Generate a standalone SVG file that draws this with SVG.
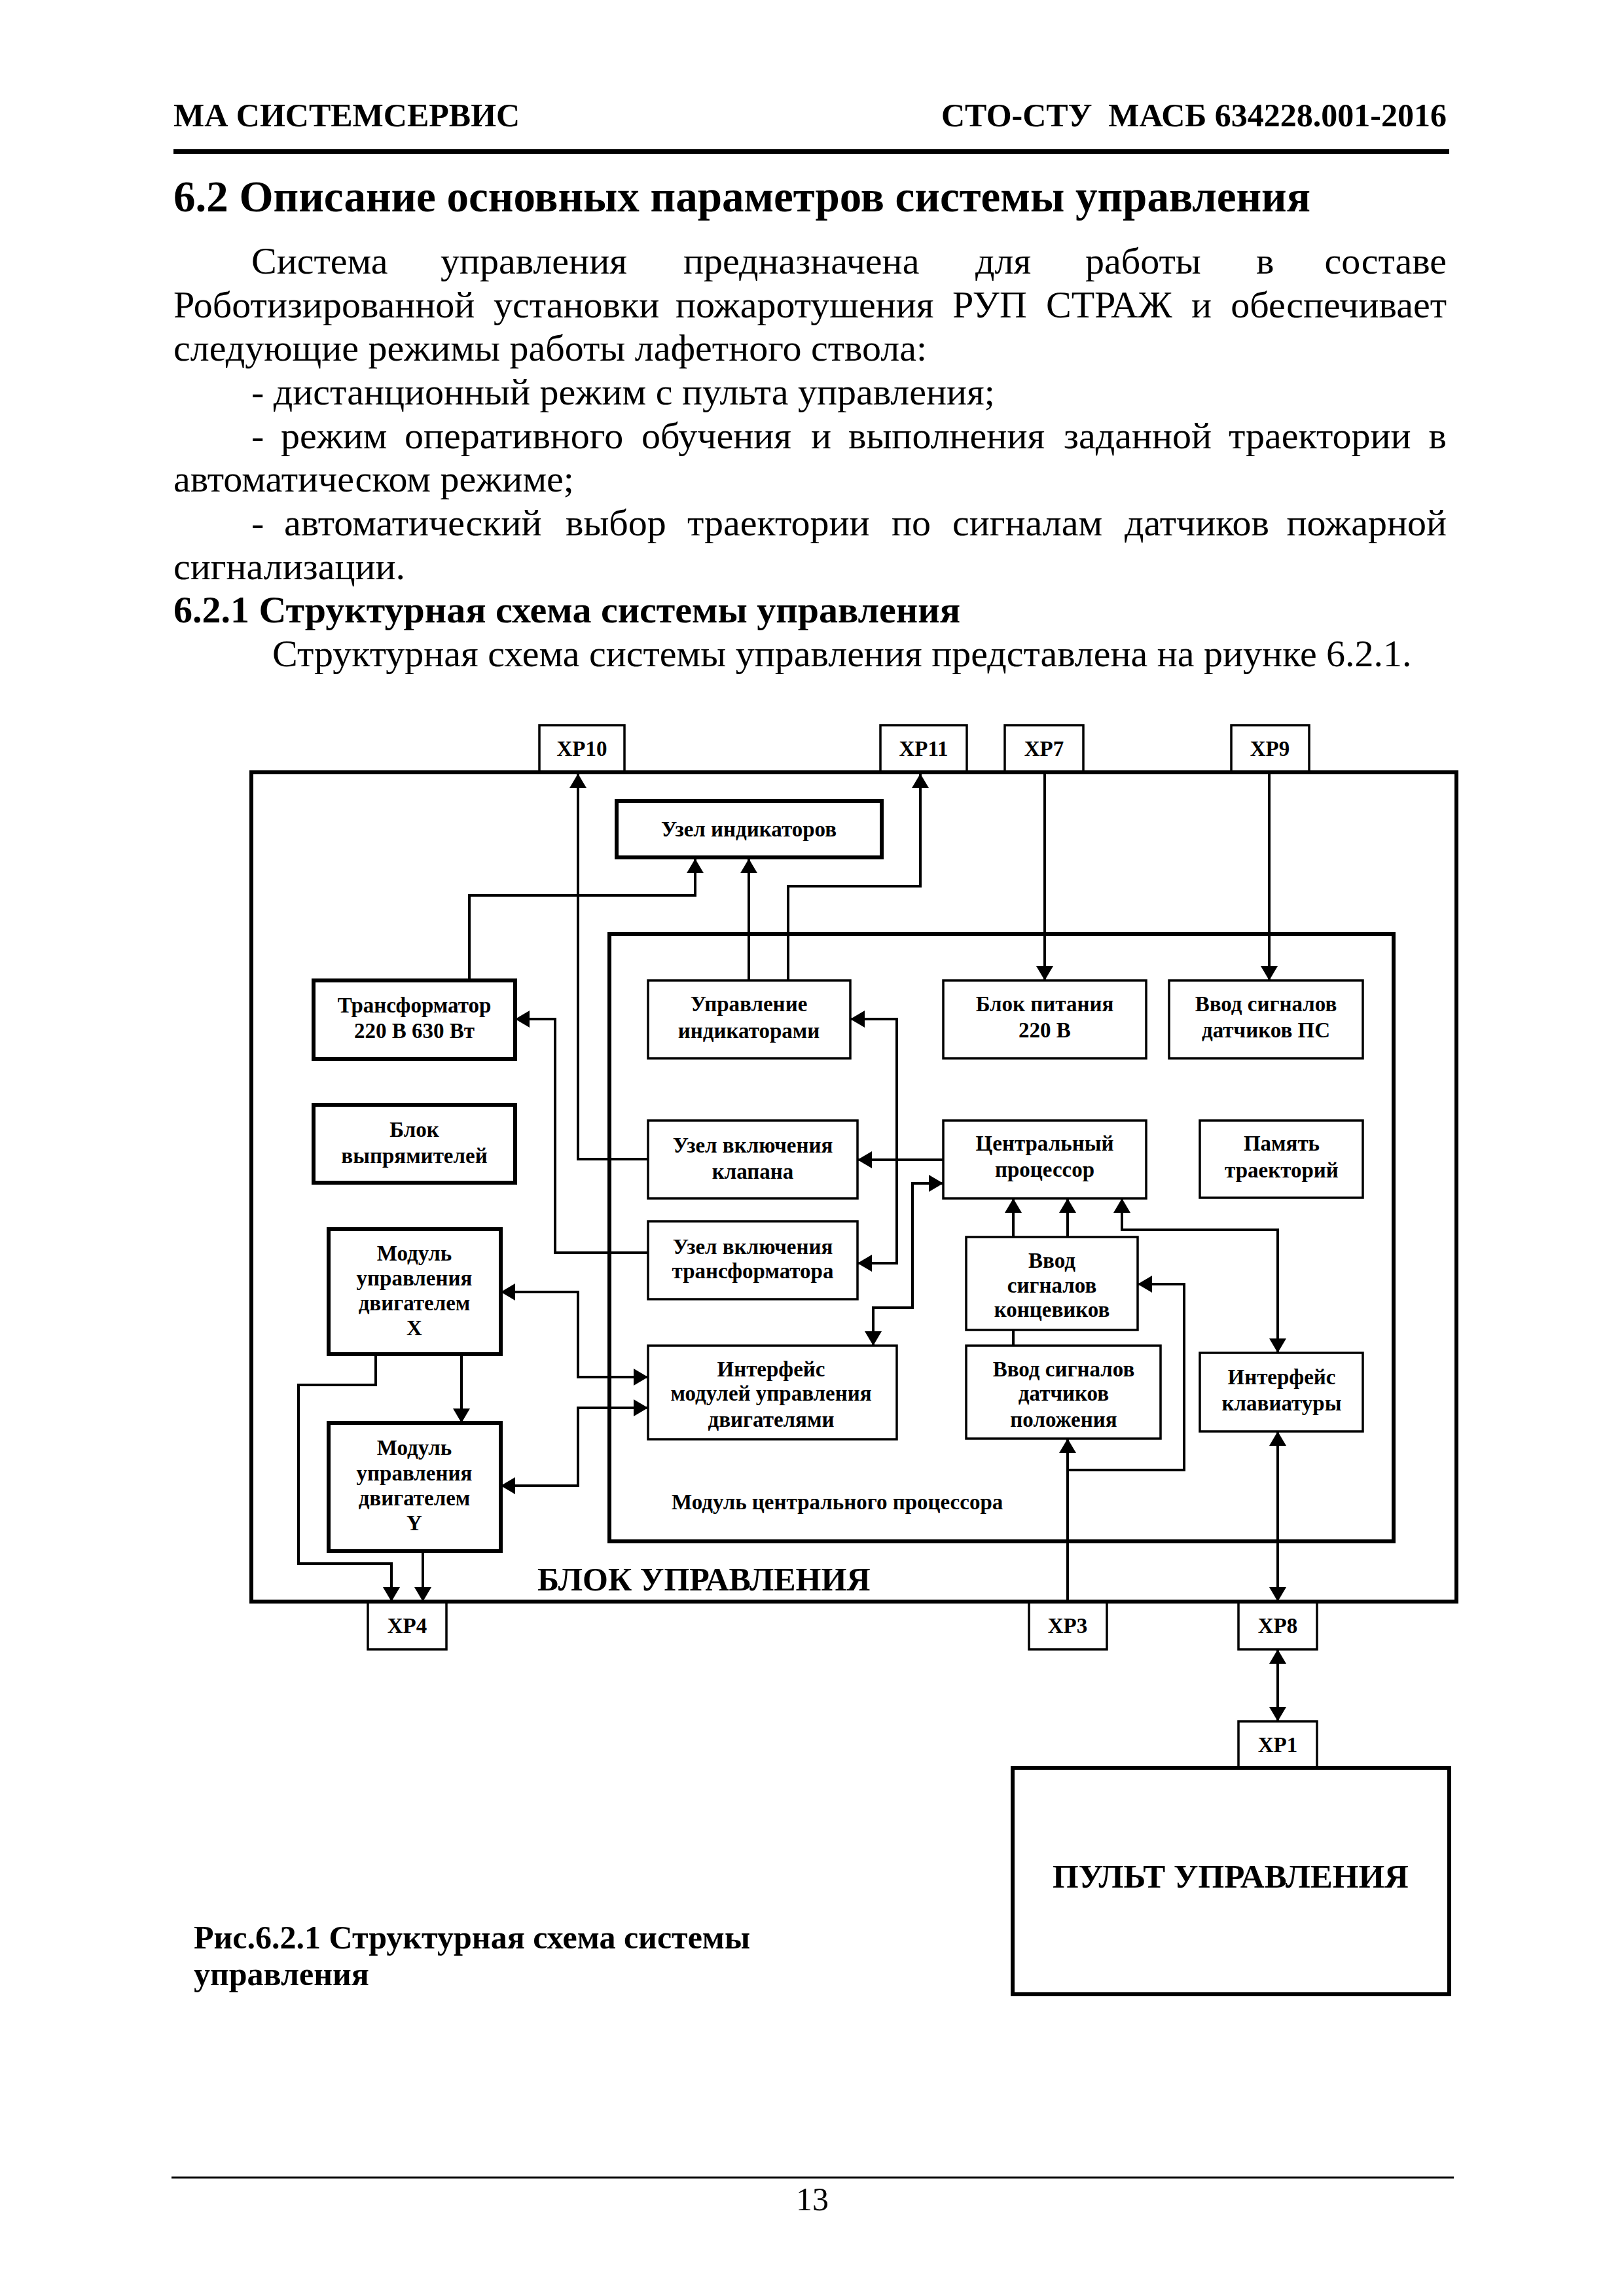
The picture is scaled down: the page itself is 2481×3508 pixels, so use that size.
<svg xmlns="http://www.w3.org/2000/svg" width="2481" height="3508" viewBox="0 0 2481 3508">
<style>
text{font-family:"Liberation Serif","Times New Roman",serif;fill:#000}
.b{font-weight:bold}
.body{font-size:58px}
.lbl{font-size:33px;font-weight:bold;text-anchor:middle}
.box{fill:none;stroke:#000;stroke-width:3.5}
.thick{fill:none;stroke:#000;stroke-width:6}
.conn{fill:none;stroke:#000;stroke-width:4}
.a{marker-end:url(#ah)}
.aa{marker-start:url(#ah);marker-end:url(#ah)}
</style>
<defs>
<marker id="ah" viewBox="0 0 22 26" refX="22" refY="13" markerWidth="22" markerHeight="26" markerUnits="userSpaceOnUse" orient="auto-start-reverse"><path d="M0,0 L22,13 L0,26 z" fill="#000"/></marker>
</defs>
<rect width="2481" height="3508" fill="#fff"/>

<g id="page-header">
<text x="265" y="193" class="b" font-size="50">МА СИСТЕМСЕРВИС</text>
<text x="2210" y="193" class="b" font-size="50" text-anchor="end" xml:space="preserve">СТО-СТУ  МАСБ 634228.001-2016</text>
<line x1="265" y1="231.5" x2="2214" y2="231.5" stroke="#000" stroke-width="7"/>
</g>

<g id="body-text">
<text x="265" y="323" class="b" font-size="67">6.2 Описание основных параметров системы управления</text>
<text class="body" y="418"><tspan x="384">Система</tspan><tspan x="673">управления</tspan><tspan x="1044">предназначена</tspan><tspan x="1490">для</tspan><tspan x="1658">работы</tspan><tspan x="1919">в</tspan><tspan x="2210" text-anchor="end">составе</tspan></text>
<text class="body" y="485"><tspan x="265">Роботизированной</tspan><tspan x="754">установки</tspan><tspan x="1032">пожаротушения</tspan><tspan x="1455">РУП</tspan><tspan x="1598">СТРАЖ</tspan><tspan x="1820">и</tspan><tspan x="2210" text-anchor="end">обеспечивает</tspan></text>
<text class="body" x="265" y="551">следующие режимы работы лафетного ствола:</text>
<text class="body" x="384" y="618">- дистанционный режим с пульта управления;</text>
<text class="body" y="685"><tspan x="384">-</tspan><tspan x="429">режим</tspan><tspan x="618">оперативного</tspan><tspan x="980">обучения</tspan><tspan x="1239">и</tspan><tspan x="1296">выполнения</tspan><tspan x="1625">заданной</tspan><tspan x="1877">траектории</tspan><tspan x="2210" text-anchor="end">в</tspan></text>
<text class="body" x="265" y="751">автоматическом режиме;</text>
<text class="body" y="818"><tspan x="384">-</tspan><tspan x="434">автоматический</tspan><tspan x="864">выбор</tspan><tspan x="1050">траектории</tspan><tspan x="1362">по</tspan><tspan x="1455">сигналам</tspan><tspan x="1718">датчиков</tspan><tspan x="2210" text-anchor="end">пожарной</tspan></text>
<text class="body" x="265" y="885">сигнализации.</text>
<text class="body b" x="265" y="951">6.2.1 Структурная схема системы управления</text>
<text class="body" x="416" y="1018">Структурная схема системы управления представлена на риунке 6.2.1.</text>
</g>

<g id="blok-upravleniya">
<rect class="thick" x="384" y="1180" width="1841" height="1267"/>
<text x="821" y="2430" class="b" font-size="50">БЛОК УПРАВЛЕНИЯ</text>
</g>
<g id="modul-cp">
<rect class="thick" x="931" y="1427" width="1198" height="928"/>
<text x="1026" y="2306" class="b" font-size="33">Модуль центрального процессора</text>
</g>

<g id="xp10"><rect class="box" x="824" y="1108" width="130" height="72"/><text class="lbl" x="889" y="1155">XP10</text></g>
<g id="xp11"><rect class="box" x="1345" y="1108" width="132" height="72"/><text class="lbl" x="1411" y="1155">XP11</text></g>
<g id="xp7"><rect class="box" x="1535" y="1108" width="120" height="72"/><text class="lbl" x="1595" y="1155">XP7</text></g>
<g id="xp9"><rect class="box" x="1881" y="1108" width="119" height="72"/><text class="lbl" x="1940" y="1155">XP9</text></g>

<g id="uzel-indikatorov"><rect class="thick" x="942" y="1224" width="405" height="86"/><text class="lbl" x="1144" y="1278">Узел индикаторов</text></g>
<g id="transformator"><rect class="thick" x="479" y="1498" width="308" height="120"/><text class="lbl" x="633" y="1547">Трансформатор</text><text class="lbl" x="633" y="1586">220 В 630 Вт</text></g>
<g id="blok-vypryamiteley"><rect class="thick" x="479" y="1688" width="308" height="119"/><text class="lbl" x="633" y="1737">Блок</text><text class="lbl" x="633" y="1777">выпрямителей</text></g>
<g id="modul-x"><rect class="thick" x="502" y="1878" width="263" height="191"/><text class="lbl" x="633" y="1926">Модуль</text><text class="lbl" x="633" y="1964">управления</text><text class="lbl" x="633" y="2002">двигателем</text><text class="lbl" x="633" y="2040">X</text></g>
<g id="modul-y"><rect class="thick" x="502" y="2174" width="263" height="196"/><text class="lbl" x="633" y="2223">Модуль</text><text class="lbl" x="633" y="2262">управления</text><text class="lbl" x="633" y="2300">двигателем</text><text class="lbl" x="633" y="2338">Y</text></g>

<g id="upr-indikatorami"><rect class="box" x="990" y="1498" width="309" height="119"/><text class="lbl" x="1144" y="1545">Управление</text><text class="lbl" x="1144" y="1586">индикаторами</text></g>
<g id="blok-pitaniya"><rect class="box" x="1441" y="1498" width="310" height="119"/><text class="lbl" x="1596" y="1545">Блок питания</text><text class="lbl" x="1596" y="1585">220 В</text></g>
<g id="vvod-ps"><rect class="box" x="1786" y="1498" width="296" height="119"/><text class="lbl" x="1934" y="1545">Ввод сигналов</text><text class="lbl" x="1934" y="1585">датчиков ПС</text></g>
<g id="uzel-klapana"><rect class="box" x="990" y="1712" width="320" height="119"/><text class="lbl" x="1150" y="1761">Узел включения</text><text class="lbl" x="1150" y="1801">клапана</text></g>
<g id="cp"><rect class="box" x="1441" y="1712" width="310" height="119"/><text class="lbl" x="1596" y="1758">Центральный</text><text class="lbl" x="1596" y="1798">процессор</text></g>
<g id="pamyat"><rect class="box" x="1833" y="1712" width="249" height="118"/><text class="lbl" x="1958" y="1758">Память</text><text class="lbl" x="1958" y="1799">траекторий</text></g>
<g id="uzel-transformatora"><rect class="box" x="990" y="1866" width="320" height="119"/><text class="lbl" x="1150" y="1916">Узел включения</text><text class="lbl" x="1150" y="1953">трансформатора</text></g>
<g id="vvod-koncevikov"><rect class="box" x="1476" y="1890" width="262" height="142"/><text class="lbl" x="1607" y="1937">Ввод</text><text class="lbl" x="1607" y="1975">сигналов</text><text class="lbl" x="1607" y="2012">концевиков</text></g>
<g id="interfeys-moduley"><rect class="box" x="990" y="2056" width="380" height="143"/><text class="lbl" x="1178" y="2103">Интерфейс</text><text class="lbl" x="1178" y="2140">модулей управления</text><text class="lbl" x="1178" y="2180">двигателями</text></g>
<g id="vvod-polozheniya"><rect class="box" x="1476" y="2056" width="297" height="142"/><text class="lbl" x="1625" y="2103">Ввод сигналов</text><text class="lbl" x="1625" y="2140">датчиков</text><text class="lbl" x="1625" y="2180">положения</text></g>
<g id="interfeys-klaviatury"><rect class="box" x="1833" y="2067" width="249" height="120"/><text class="lbl" x="1958" y="2115">Интерфейс</text><text class="lbl" x="1958" y="2155">клавиатуры</text></g>

<g id="xp4"><rect class="box" x="562" y="2447" width="120" height="73"/><text class="lbl" x="622" y="2495">XP4</text></g>
<g id="xp3"><rect class="box" x="1572" y="2447" width="119" height="73"/><text class="lbl" x="1631" y="2495">XP3</text></g>
<g id="xp8"><rect class="box" x="1892" y="2447" width="120" height="73"/><text class="lbl" x="1952" y="2495">XP8</text></g>
<g id="xp1"><rect class="box" x="1892" y="2630" width="120" height="71"/><text class="lbl" x="1952" y="2677">XP1</text></g>
<g id="pult"><rect class="thick" x="1547" y="2701" width="667" height="346"/><text x="1880" y="2884" class="b" font-size="51" text-anchor="middle">ПУЛЬТ УПРАВЛЕНИЯ</text></g>

<g id="connectors">
<path class="conn a" d="M990,1771 H883 V1182"/>
<path class="conn a" d="M1204,1498 V1354 H1406 V1182"/>
<path class="conn a" d="M1144,1498 V1312"/>
<path class="conn a" d="M717,1498 V1368 H1062 V1312"/>
<path class="conn a" d="M1596,1182 V1498"/>
<path class="conn a" d="M1939,1182 V1498"/>
<path class="conn a" d="M990,1914 H848 V1557 H787"/>
<path class="conn aa" d="M1299,1557 H1370 V1930 H1310"/>
<path class="conn a" d="M1441,1772 H1310"/>
<path class="conn aa" d="M1441,1808 H1394 V1998 H1334 V2056"/>
<path class="conn aa" d="M765,1974 H883 V2104 H990"/>
<path class="conn aa" d="M765,2270 H883 V2151 H990"/>
<path class="conn a" d="M705,2069 V2174"/>
<path class="conn a" d="M574,2069 V2116 H456 V2389 H598 V2447"/>
<path class="conn a" d="M646,2370 V2447"/>
<path class="conn a" d="M1548,1890 V1831"/>
<path class="conn a" d="M1631,1890 V1831"/>
<path class="conn aa" d="M1714,1831 V1879 H1952 V2067"/>
<path class="conn" d="M1548,2032 V2056"/>
<path class="conn a" d="M1631,2447 V2198"/>
<path class="conn a" d="M1631,2246 H1809 V1962 H1738"/>
<path class="conn aa" d="M1952,2187 V2447"/>
<path class="conn aa" d="M1952,2520 V2630"/>
</g>

<g id="caption">
<text x="296" y="2977" class="b" font-size="50">Рис.6.2.1 Структурная схема системы</text>
<text x="296" y="3033" class="b" font-size="50">управления</text>
</g>

<g id="page-footer">
<line x1="262" y1="3327" x2="2221" y2="3327" stroke="#000" stroke-width="3"/>
<text x="1241" y="3377" font-size="50" text-anchor="middle">13</text>
</g>
</svg>
